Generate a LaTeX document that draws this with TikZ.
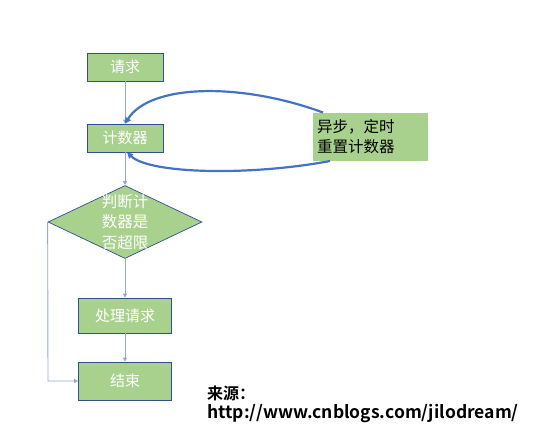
\documentclass[tikz,border=0pt]{standalone}
\usepackage{fontspec}
\setmainfont{Noto Sans CJK SC}
\newfontfamily\boldcjk{Noto Sans CJK SC Bold}
\usetikzlibrary{shapes.geometric,arrows.meta}
\definecolor{boxgreen}{HTML}{A9D18E}
\definecolor{boxedge}{HTML}{2F528F}
\definecolor{linkblue}{HTML}{8EA9DB}
\definecolor{loopblue}{HTML}{4472C4}
\tikzset{
  flowbox/.style={draw=boxedge, fill=boxgreen, line width=0.7pt, text=white, inner sep=0pt, font=\fontsize{15}{18}\selectfont},
  link/.style={draw=linkblue, line width=0.9pt, -{Triangle[length=4pt,width=4pt]}},
  loop/.style={draw=loopblue, line width=2.2pt, -{Triangle[length=6pt,width=6pt]}}
}
\begin{document}
\begin{tikzpicture}[x=1pt, y=-1pt]
		\useasboundingbox (0,0) rectangle (557,432);
		\node[flowbox, minimum width=76pt, minimum height=28pt] (req) at (125,67) {请求};
		\node[flowbox, minimum width=76pt, minimum height=28pt] (cnt) at (125,138) {计数器};
		\node[flowbox, diamond, aspect=2.1, minimum width=154pt, minimum height=73pt] (chk) at (125,222) {};
		\node[text=white, align=center, font=\fontsize{15.5}{20.5}\selectfont] (chktext) at (125,222) {判断计\\数器是\\否超限};
		\node[flowbox, minimum width=93pt, minimum height=35pt] (proc) at (125,315.5) {处理请求};
		\node[flowbox, minimum width=93pt, minimum height=38pt] (fin) at (125,381) {结束};
		\node[fill=boxgreen, minimum width=115pt, minimum height=48pt, align=left, inner sep=0pt, text width=107pt, font=\fontsize{15.5}{20}\selectfont] (note) at (370.5,137) {异步，定时\\重置计数器};
		\node[anchor=north west, align=left, inner sep=0pt, font=\boldcjk\fontsize{16}{19}\selectfont] (src) at (207,386) {来源：\\\fontsize{17.5}{19}\selectfont http://www.cnblogs.com/jilodream/};
		\coordinate (upin) at (323,112.5);
		\coordinate (lowin) at (330,161);
		\coordinate (turn) at (48,381);
		\draw[link] (req) -- (cnt);
		\draw[link] (cnt) -- (chk);
		\draw[link] (chk) -- (proc);
		\draw[link] (proc) -- (fin);
		\draw[link] (chk.west) -- (turn) -- (fin.west);
		\draw[loop] (upin) .. controls (240,82) and (150,84) .. (cnt.north);
		\draw[loop] (lowin) .. controls (250,176) and (150,174) .. ([xshift=2pt]cnt.south);
\end{tikzpicture}
\end{document}
